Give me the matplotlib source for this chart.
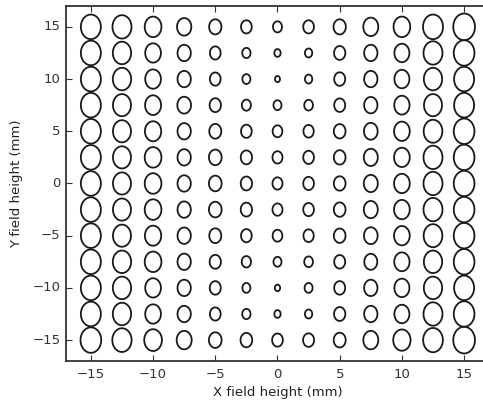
import numpy as np
import matplotlib
matplotlib.use("Agg")
import matplotlib.pyplot as plt
from matplotlib.path import Path


# =========================
# Data
# =========================

x_field = [-15, -12.5, -10, -7.5, -5, -2.5, 0, 2.5, 5, 7.5, 10, 12.5, 15]
y_field = [15, 12.5, 10, 7.5, 5, 2.5, 0, -2.5, -5, -7.5, -10, -12.5, -15]

# spot diameter per field point (rows follow y_field, columns follow x_field)
spot_size = [
    [20.0, 19.0, 16.7, 14.3, 12.3, 10.7, 9.0, 10.7, 12.3, 15.0, 16.7, 20.0, 21.7],
    [20.0, 18.3, 15.7, 13.3, 10.7, 8.3, 6.3, 7.3, 11.3, 13.3, 15.0, 19.0, 20.7],
    [20.0, 18.3, 15.7, 13.3, 10.7, 8.0, 5.0, 7.3, 11.0, 13.3, 15.0, 18.3, 20.0],
    [20.0, 18.0, 16.0, 13.7, 11.3, 9.0, 8.0, 8.7, 11.0, 13.3, 15.3, 18.0, 20.0],
    [20.0, 18.0, 16.3, 13.3, 12.0, 10.7, 9.7, 10.3, 11.7, 13.7, 15.7, 18.7, 20.7],
    [20.0, 18.0, 16.7, 13.3, 12.7, 11.3, 10.0, 10.7, 11.7, 14.0, 15.7, 19.0, 20.7],
    [20.0, 18.0, 16.7, 13.3, 12.7, 11.3, 10.0, 10.7, 11.7, 14.0, 15.7, 19.0, 20.7],
    [20.0, 18.0, 16.7, 13.3, 12.7, 11.3, 10.0, 10.7, 11.7, 14.0, 15.7, 19.0, 20.7],
    [20.0, 18.0, 16.3, 13.3, 12.0, 10.7, 9.7, 10.3, 11.7, 13.7, 15.7, 18.7, 20.7],
    [20.0, 18.3, 16.7, 13.3, 11.3, 9.3, 8.0, 8.7, 11.0, 13.0, 15.3, 18.3, 20.7],
    [20.0, 18.3, 15.7, 13.3, 11.0, 8.0, 5.3, 8.0, 11.0, 13.3, 15.0, 18.3, 20.0],
    [20.0, 18.3, 15.7, 13.3, 10.7, 8.3, 6.3, 7.3, 11.3, 13.3, 15.0, 19.0, 20.7],
    [20.7, 19.3, 17.7, 15.0, 12.7, 11.7, 10.7, 11.0, 12.0, 15.0, 17.3, 19.7, 21.7],
]

x_ticks = [-15, -10, -5, 0, 5, 10, 15]
y_ticks = [-15, -10, -5, 0, 5, 10, 15]


# =========================
# Prepare Data
# =========================

xx, yy = np.meshgrid(x_field, y_field)
sizes = np.array(spot_size)

# slightly tall ellipse marker (the picture is squeezed horizontally)
aspect = 1.23
theta = np.linspace(0, 2 * np.pi, 80)
ellipse = Path(np.column_stack([np.cos(theta) / aspect, np.sin(theta)]), closed=True)

marker_pt = sizes * aspect * 72 / 100


# =========================
# Chart
# =========================

plt.style.use("classic")
fig = plt.figure(figsize=(4.83, 4.09), dpi=100)
fig.patch.set_facecolor("white")
ax = fig.add_axes([0.1366, 0.1174, 0.8758, 0.868])

ax.scatter(
    xx.ravel(),
    yy.ravel(),
    s=marker_pt.ravel() ** 2,
    marker=ellipse,
    facecolors="none",
    edgecolors="#1a1a1a",
    linewidths=1.3,
)

ax.set_xlim(-17, 17)
ax.set_ylim(-17, 17)
ax.set_xticks(x_ticks)
ax.set_yticks(y_ticks)
ax.tick_params(direction="in", length=4, width=0.8, labelsize=9.5, pad=5,
               top=True, right=True, colors="#333333")
ax.tick_params(axis="y", pad=4)
for spine in ax.spines.values():
    spine.set_linewidth(1.3)
    spine.set_color("#333333")

ax.set_xlabel("X field height (mm)", fontsize=9.5, color="#222222", labelpad=4)
ax.set_ylabel("Y field height (mm)", fontsize=9.5, color="#222222", labelpad=7)


# =========================
# Save
# =========================

fig.savefig("out.png", dpi=100, facecolor="white")
